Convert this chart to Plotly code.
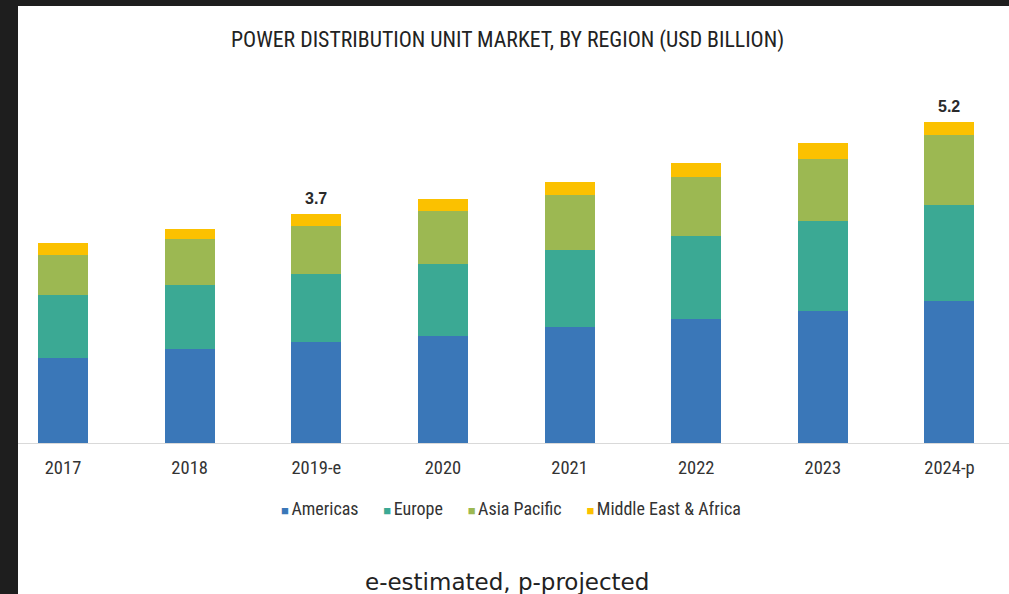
import plotly.graph_objects as go

# Market size by region, USD billion
years = ["2017", "2018", "2019-e", "2020", "2021", "2022", "2023", "2024-p"]
americas = [1.37, 1.52, 1.63, 1.73, 1.88, 2.01, 2.14, 2.30]
europe = [1.02, 1.04, 1.10, 1.17, 1.25, 1.34, 1.46, 1.55]
asia_pacific = [0.66, 0.74, 0.78, 0.86, 0.89, 0.95, 1.00, 1.14]
mea = [0.19, 0.16, 0.19, 0.19, 0.21, 0.23, 0.26, 0.21]
labelled_years = ["2019-e", "2024-p"]

series_names = ["Americas", "Europe", "Asia Pacific", "Middle East & Africa"]
series_values = [americas, europe, asia_pacific, mea]
series_colors = ["#3a77b8", "#3ba994", "#9cb852", "#fbc100"]

W, H = 1009, 594
NARROW = "Liberation Sans Narrow, Roboto Condensed, Arial Narrow, Liberation Sans, Arial"
REGULAR = "Liberation Sans, Arial, sans-serif"
WIDE = "DejaVu Sans, Verdana, sans-serif"

def px_y(py):
    return 1 - py / H

def px_x(pxv):
    return pxv / W

fig = go.Figure()
for name, vals, col in zip(series_names, series_values, series_colors):
    fig.add_trace(go.Bar(x=years, y=vals, name=name, marker_color=col,
                         marker_line_width=0, showlegend=False))

totals = [sum(v) for v in zip(*series_values)]

annotations = []
for yr, tot in zip(years, totals):
    if yr in labelled_years:
        annotations.append(dict(x=yr, y=tot, xref="x", yref="y", text=f"<b>{tot:.1f}</b>",
                                showarrow=False, yanchor="bottom", yshift=5,
                                font=dict(family=REGULAR, size=16, color="#2a2a2a")))

# title
annotations.append(dict(x=px_x(507), y=px_y(40), xref="paper", yref="paper",
                        text="POWER DISTRIBUTION UNIT MARKET, BY REGION (USD BILLION)",
                        showarrow=False, xanchor="center", yanchor="middle",
                        font=dict(family=NARROW, size=21.8, color="#222222")))

# legend row
legend_txt = "&nbsp;&nbsp;&nbsp;&nbsp;&nbsp;&nbsp;".join(
    f"<span style='color:{c};font-size:13px'>■</span>"
    f"<span style='font-size:11px'>&nbsp;</span>{n}"
    for n, c in zip(series_names, series_colors))
annotations.append(dict(x=px_x(511), y=px_y(508), xref="paper", yref="paper",
                        text=legend_txt, showarrow=False, xanchor="center", yanchor="middle",
                        font=dict(family=NARROW, size=18, color="#333333")))

# footnote
annotations.append(dict(x=px_x(507), y=px_y(582), xref="paper", yref="paper",
                        text="e-estimated, p-projected", showarrow=False,
                        xanchor="center", yanchor="middle",
                        font=dict(family=WIDE, size=23, color="#222222")))

baseline_px = 443
top_px = 100
px_per_unit = 61.8

fig.update_layout(
    width=W, height=H,
    margin=dict(l=0, r=0, t=0, b=0),
    paper_bgcolor="white", plot_bgcolor="white",
    barmode="stack", bargap=0.605,
    annotations=annotations,
    shapes=[
        dict(type="rect", xref="paper", yref="paper", x0=0, x1=px_x(18), y0=0, y1=1,
             fillcolor="#1e1e1e", line_width=0, layer="above"),
        dict(type="rect", xref="paper", yref="paper", x0=0, x1=1, y0=px_y(6), y1=1,
             fillcolor="#1e1e1e", line_width=0, layer="above"),
    ],
    xaxis=dict(type="category", range=[-0.4975, 7.47], showgrid=False,
               showline=True, linecolor="#d9d9d9", linewidth=1,
               ticks="outside", ticklen=8, tickcolor="rgba(0,0,0,0)",
               tickfont=dict(family=NARROW, size=18.5, color="#333333")),
    yaxis=dict(domain=[px_y(baseline_px), px_y(top_px)],
               range=[0, (baseline_px - top_px) / px_per_unit],
               visible=False, showgrid=False, zeroline=False),
)

fig.write_html("out.html")
